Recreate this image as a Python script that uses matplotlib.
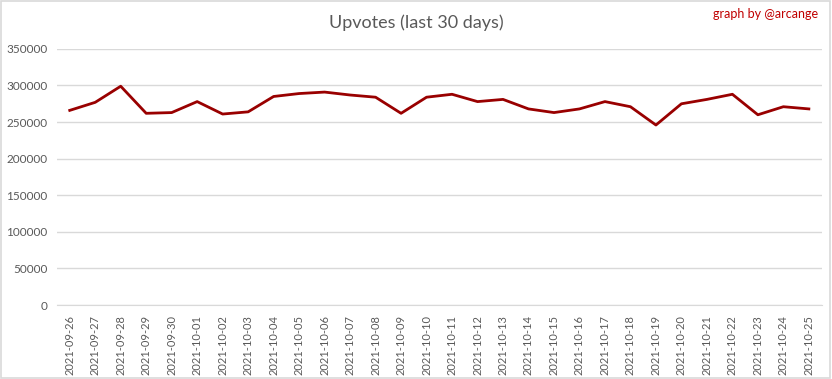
import matplotlib.pyplot as plt
from matplotlib.patches import Rectangle

plt.rcParams["font.family"] = ["Lato", "DejaVu Sans"]

fechas = ["2021-09-26", "2021-09-27", "2021-09-28", "2021-09-29", "2021-09-30",
          "2021-10-01", "2021-10-02", "2021-10-03", "2021-10-04", "2021-10-05",
          "2021-10-06", "2021-10-07", "2021-10-08", "2021-10-09", "2021-10-10",
          "2021-10-11", "2021-10-12", "2021-10-13", "2021-10-14", "2021-10-15",
          "2021-10-16", "2021-10-17", "2021-10-18", "2021-10-19", "2021-10-20",
          "2021-10-21", "2021-10-22", "2021-10-23", "2021-10-24", "2021-10-25"]

upvotes = [266000, 277000, 299000, 262000, 263000, 278000, 261000, 264000,
           285000, 289000, 291000, 287000, 284000, 262000, 284000, 288000,
           278000, 281000, 268000, 263000, 268000, 278000, 271000, 246000,
           275000, 281000, 288000, 260000, 271000, 268000]

valores_y = [0, 50000, 100000, 150000, 200000, 250000, 300000, 350000]

gris = "#595959"

fig = plt.figure(figsize=(8.32, 3.79), dpi=100)
ax = fig.add_axes([0.0685, 0.195, 0.919, 0.676])

x = list(range(len(fechas)))
ax.plot(x, upvotes, color="#990000", linewidth=2)

ax.set_xlim(-0.5, len(fechas) - 0.5)
ax.set_ylim(0, 350000)
ax.set_yticks(valores_y)
ax.set_yticklabels([str(v) for v in valores_y], color=gris, fontsize=8.5)
ax.set_xticks(x)
ax.set_xticklabels(fechas, rotation=90, color=gris, fontsize=8)
ax.tick_params(length=0, pad=7)
ax.grid(axis="y", color="#d9d9d9", linewidth=1)
ax.set_axisbelow(True)
for lado in ["top", "right", "left"]:
    ax.spines[lado].set_visible(False)
ax.spines["bottom"].set_color("#d9d9d9")

fig.text(0.500, 0.94, "Upvotes (last 30 days)", ha="center", va="center",
         fontsize=13, color=gris)
fig.text(0.983, 0.962, "graph by @arcange", ha="right", va="center",
         fontsize=9, color="#c00000")

fig.patches.append(Rectangle((0.001, 0.002), 0.997, 0.995, transform=fig.transFigure,
                             fill=False, edgecolor="#d9d9d9", linewidth=1.2))

plt.savefig("out.png", dpi=100)
